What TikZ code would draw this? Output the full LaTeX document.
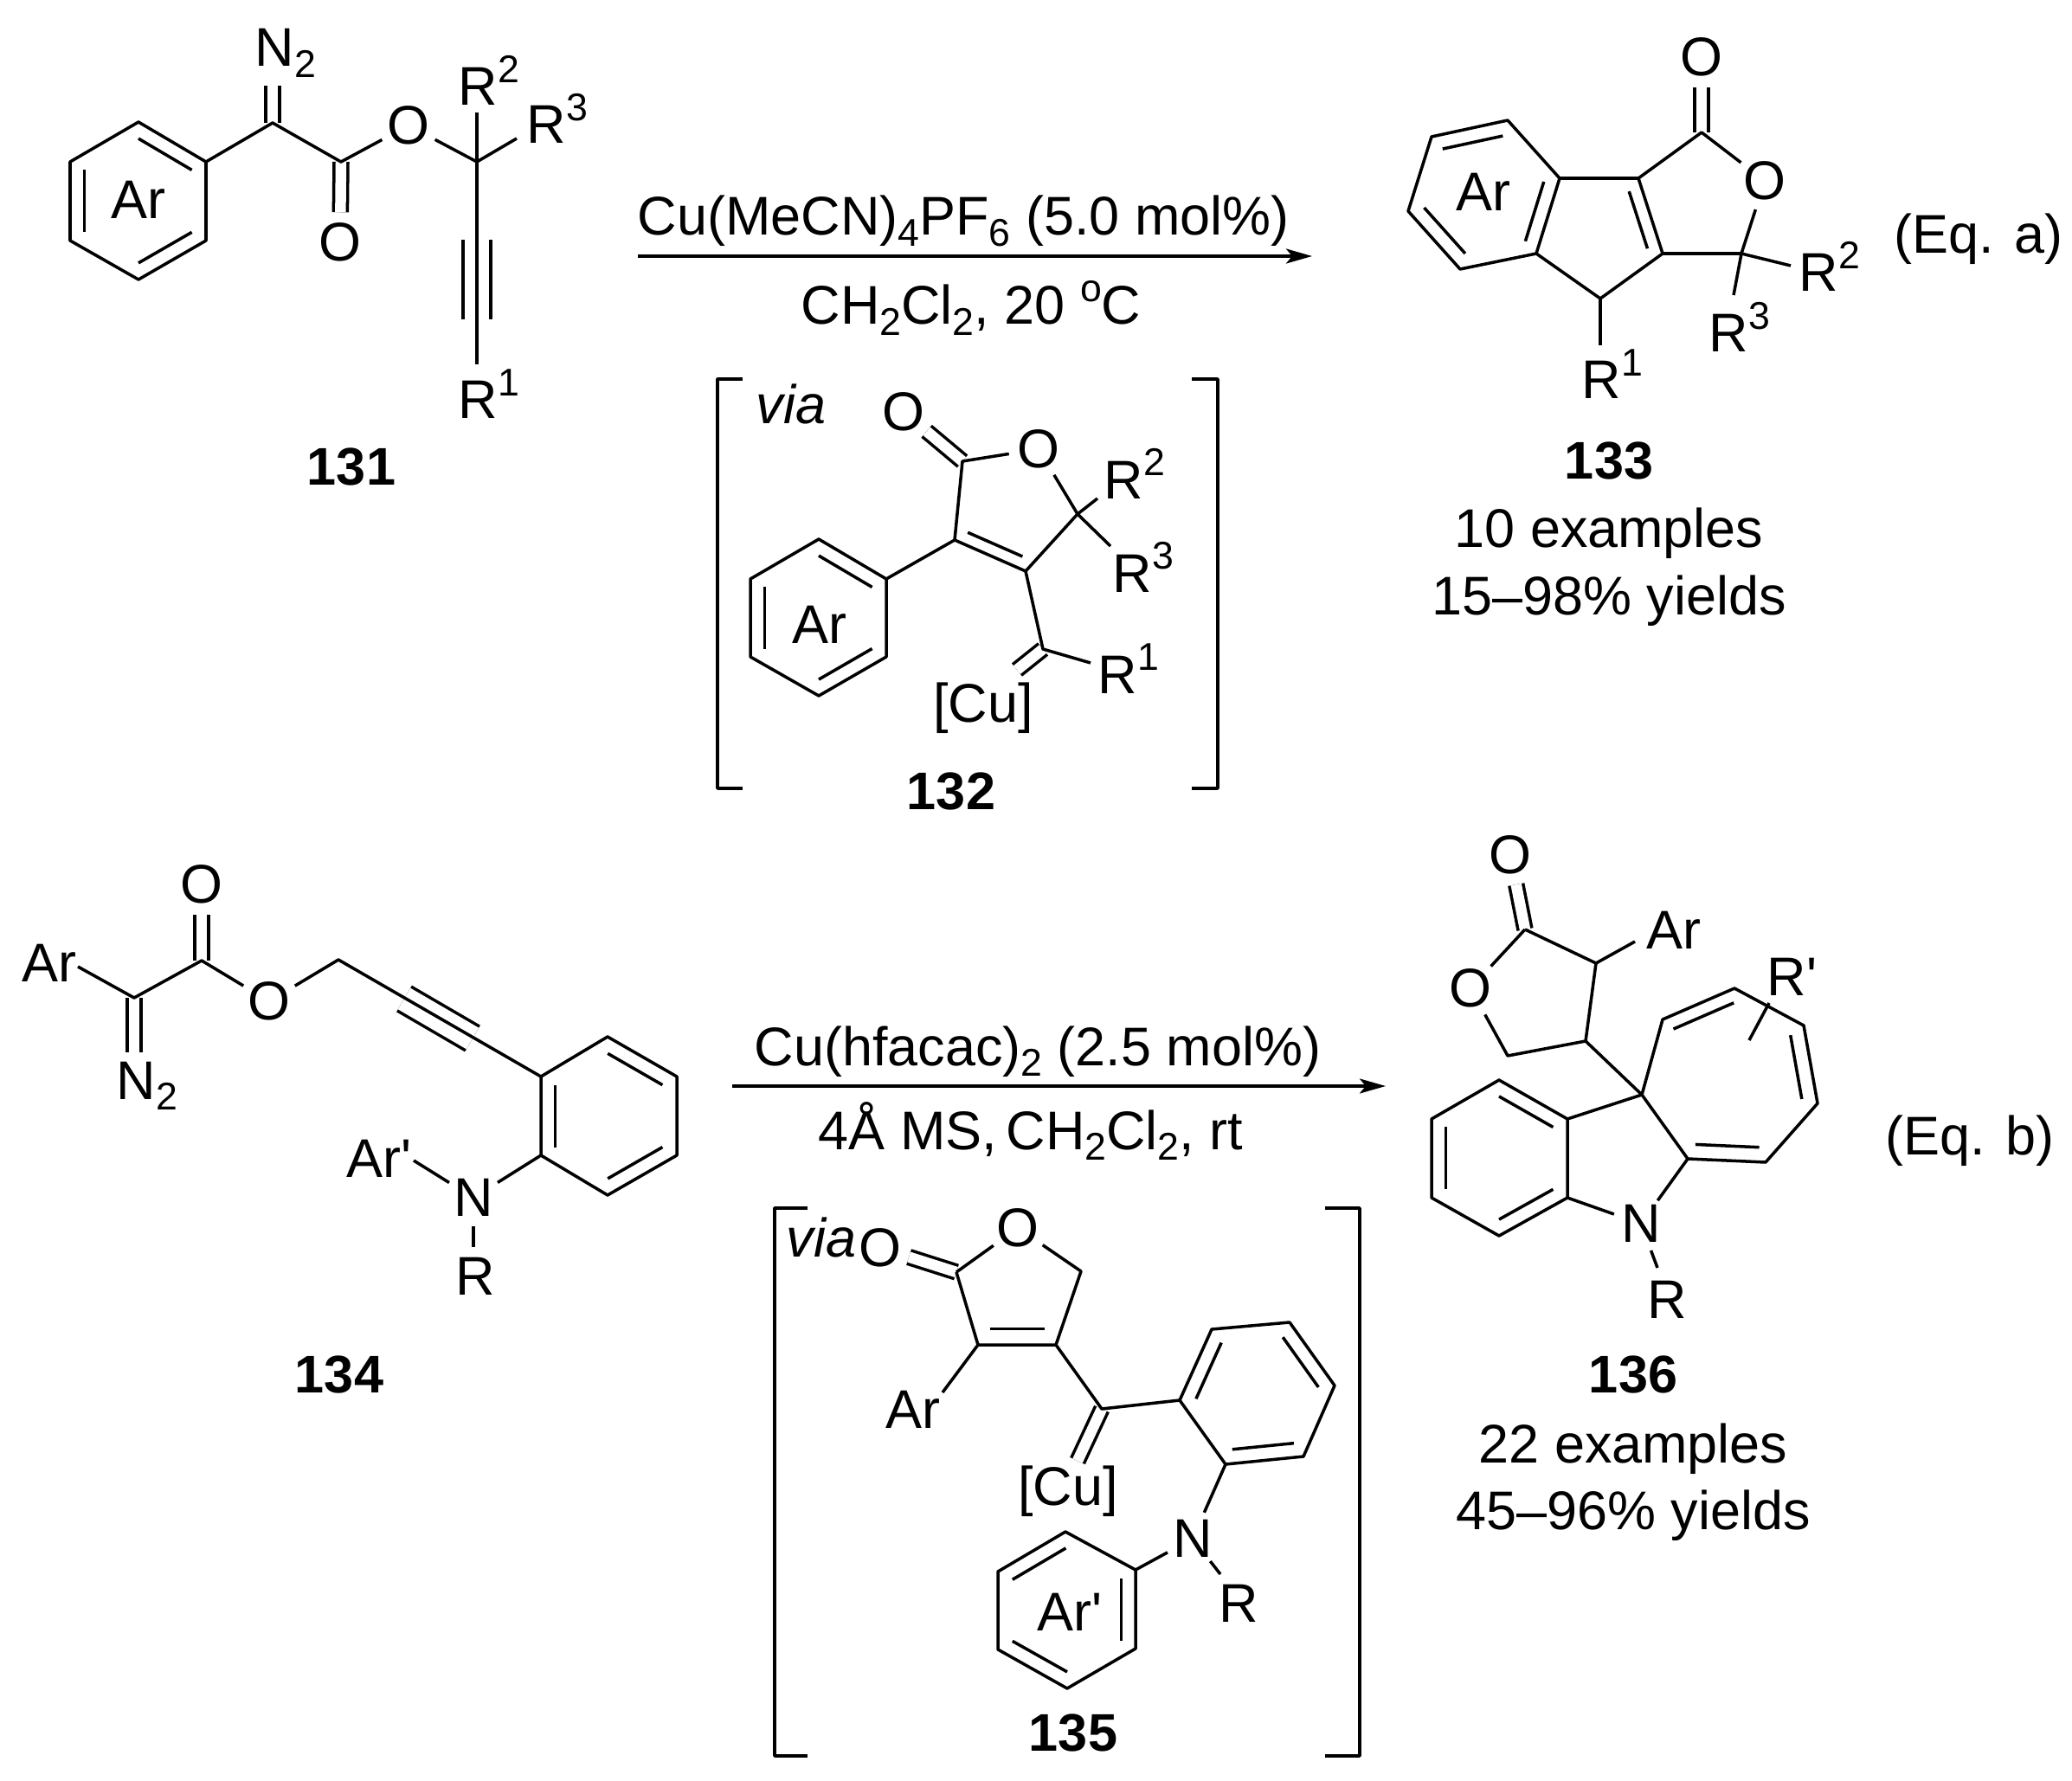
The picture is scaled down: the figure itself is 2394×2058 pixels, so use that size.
\documentclass[tikz,border=0pt]{standalone}
\usepackage{fontspec}
\setmainfont{Liberation Sans}
\usetikzlibrary{arrows.meta}
\usetikzlibrary{calc}
\tikzstyle{bond} = [line width=1pt, line join=round]
\tikzstyle{dbl} = [line width=1pt, double, double distance=3.55pt]
\tikzstyle{yne} = [line width=1pt, double, double distance=8.1pt]
\tikzstyle{atom} = [circle, inner sep=0pt, minimum size=0.62cm]
\tikzstyle{txt} = [anchor=base west, inner sep=0pt]
\tikzstyle{ctr} = [anchor=base, inner sep=0pt]
\tikzstyle{num} = [anchor=base, inner sep=0pt, font=\fontsize{17.4}{21}\selectfont\bfseries]
\newcommand{\subr}[1]{\raisebox{-.2em}{\fontsize{12.7}{12.7}\selectfont #1}}
\newcommand{\supr}[1]{\raisebox{.42em}{\fontsize{12.7}{12.7}\selectfont #1}}
\newcommand{\inbond}[4][.21]{\draw ($(#2)!#1!(#4)$) -- ($(#3)!#1!(#4)$);}
\begin{document}
\begin{tikzpicture}[x=0.01cm, y=-0.01cm, bond, every node/.append style={font=\fontsize{17.9}{21}\selectfont},
    >={Stealth[length=0.3cm, width=0.17cm, inset=0.07cm]}]
    \useasboundingbox (0,0) rectangle (2394,2058);

    % 131
    \coordinate (a1) at (160,141); \coordinate (a2) at (238,187); \coordinate (a3) at (238,278);
    \coordinate (a4) at (160,323); \coordinate (a5) at (81,278); \coordinate (a6) at (81,187);
    \coordinate (ac) at (160,232);
    \coordinate (adiazo) at (315,142); \coordinate (aester) at (394,187); \coordinate (aquat) at (551,187);
    \coordinate (an2end) at (315,99); \coordinate (ar2end) at (551,130); \coordinate (ar3end) at (597,160);
    \coordinate (ar1end) at (551,421); \coordinate (ayne1) at (551,277); \coordinate (ayne2) at (551,369);
    \node[txt] (an2) at (293,77) {N\subr{2}};
    \node[atom] (ao1) at (393,280) {O};
    \node[atom] (ao2) at (472,145) {O};
    \node[txt] (ar2) at (528,122) {R\supr{2}};
    \node[txt] (ar3) at (607,166) {R\supr{3}};
    \node[txt] (ar1) at (528,484) {R\supr{1}};
    \node[ctr] (aar) at (160,253) {Ar};
    \node[num] (acmp) at (406,560) {131};
    \draw[dbl] (adiazo) -- (an2end);
    \draw[dbl] (aester) -- (ao1);
    \draw[yne] (ayne1) -- (ayne2);
    \draw (a1) -- (a2) -- (a3) -- (a4) -- (a5) -- (a6) -- cycle;
    \inbond{a1}{a2}{ac} \inbond{a3}{a4}{ac} \inbond{a5}{a6}{ac}
    \draw (a2) -- (adiazo) -- (aester) -- (ao2) -- (aquat);
    \draw (aquat) -- (ar2end);
    \draw (aquat) -- (ar3end);
    \draw (aquat) -- (ar1end);

    % first arrow
    \coordinate (arrAstart) at (737,296); \coordinate (arrAend) at (1516,296);
    \draw[->] (arrAstart) -- (arrAend);
    \node[txt] (condA1) at (735,272) {Cu(MeCN)\subr{4}PF\subr{6} (5.0 mol\%)};
    \node[ctr] (condA2) at (1122,375) {CH\subr{2}Cl\subr{2}, 20 \supr{o}C};

    % 132
    \draw (858,438) -- (829,438) -- (829,911) -- (858,911);
    \draw (1377,438) -- (1407,438) -- (1407,911) -- (1377,911);
    \node[txt] (viaA) at (872,489) {\itshape via};
    \coordinate (b1) at (946,623); \coordinate (b2) at (1024,669); \coordinate (b3) at (1024,759);
    \coordinate (b4) at (946,804); \coordinate (b5) at (867,759); \coordinate (b6) at (867,669);
    \coordinate (bc) at (946,714);
    \coordinate (blac) at (1112,533); \coordinate (bquat) at (1245,594); \coordinate (bene1) at (1185,660);
    \coordinate (bene2) at (1103,624); \coordinate (bring) at (1169,586); \coordinate (bcarb) at (1205,750);
    \coordinate (br2end) at (1268,576); \coordinate (br3end) at (1283,631); \coordinate (br1end) at (1260,766);
    \coordinate (bcuend) at (1175,774);
    \node[atom] (bo1) at (1044,476) {O};
    \node[atom] (bo2) at (1200,519) {O};
    \node[txt] (br2) at (1274,576) {R\supr{2}};
    \node[txt] (br3) at (1284,684) {R\supr{3}};
    \node[txt] (br1) at (1267,801) {R\supr{1}};
    \node[ctr] (bcu) at (1136,834) {[Cu]};
    \node[ctr] (bar) at (947,743) {Ar};
    \node[num] (bcmp) at (1099,935) {132};
    \draw[dbl] (blac) -- (bo1);
    \draw[dbl] (bcarb) -- (bcuend);
    \draw (b1) -- (b2) -- (b3) -- (b4) -- (b5) -- (b6) -- cycle;
    \inbond{b1}{b2}{bc} \inbond{b3}{b4}{bc} \inbond{b5}{b6}{bc}
    \draw (b2) -- (bene2) -- (blac) -- (bo2) -- (bquat) -- (bene1) -- (bene2);
    \inbond[.23]{bene2}{bene1}{bring}
    \draw (bene1) -- (bcarb) -- (br1end);
    \draw (bquat) -- (br2end);
    \draw (bquat) -- (br3end);

    % 133
    \coordinate (c1) at (1742,139); \coordinate (c2) at (1654,158); \coordinate (c3) at (1627,244);
    \coordinate (c4) at (1687,311); \coordinate (c5) at (1775,293); \coordinate (c6) at (1802,206);
    \coordinate (cc) at (1715,225);
    \coordinate (cene1) at (1893,206); \coordinate (cene2) at (1921,293); \coordinate (cch) at (1849,345);
    \coordinate (cpc) at (1848,269);
    \coordinate (clac) at (1966,153); \coordinate (cquat) at (2012,293);
    \coordinate (cr1end) at (1849,399); \coordinate (cr2end) at (2069,307); \coordinate (cr3end) at (2003,341);
    \node[atom] (co1) at (1966,66) {O};
    \node[atom] (co2) at (2039,209) {O};
    \node[txt] (cr1) at (1826,461) {R\supr{1}};
    \node[txt] (cr2) at (2077,337) {R\supr{2}};
    \node[txt] (cr3) at (1973,407) {R\supr{3}};
    \node[ctr] (car) at (1714,244) {Ar};
    \node[txt] (eqA) at (2187,293) {(Eq. a)};
    \node[num] (ccmp) at (1859,553) {133};
    \node[ctr] (cex) at (1859,632) {10 examples};
    \node[ctr] (cyi) at (1859,710) {15–98\% yields};
    \draw[dbl] (clac) -- (co1);
    \draw (c1) -- (c2) -- (c3) -- (c4) -- (c5) -- (c6) -- cycle;
    \inbond{c1}{c2}{cc} \inbond{c3}{c4}{cc} \inbond{c5}{c6}{cc}
    \draw (c6) -- (cene1) -- (cene2) -- (cch) -- (c5);
    \inbond[.24]{cene1}{cene2}{cpc}
    \draw (cene1) -- (clac) -- (co2) -- (cquat) -- (cene2);
    \draw (cch) -- (cr1end);
    \draw (cquat) -- (cr2end);
    \draw (cquat) -- (cr3end);

    % 134
    \coordinate (d1) at (625,1244); \coordinate (d2) at (702,1198); \coordinate (d3) at (782,1244);
    \coordinate (d4) at (782,1335); \coordinate (d5) at (702,1381); \coordinate (d6) at (625,1335);
    \coordinate (dc) at (703,1290);
    \coordinate (ddiazo) at (155,1153); \coordinate (dester) at (233,1110); \coordinate (dch2) at (391,1109);
    \coordinate (dn2end) at (155,1216); \coordinate (darend) at (90,1117);
    \coordinate (dyne1) at (467,1154); \coordinate (dyne2) at (546,1200);
    \coordinate (dnar) at (478,1341);
    \coordinate (drend) at (547,1441);
    \node[txt] (dar) at (24,1134) {Ar};
    \node[txt] (dn2) at (133,1270) {N\subr{2}};
    \node[atom] (do1) at (233,1022) {O};
    \node[atom] (do2) at (311,1157) {O};
    \node[atom] (dn) at (547,1384) {N};
    \node[txt] (darp) at (399,1360) {Ar\textquotesingle};
    \node[txt] (dr) at (525,1496) {R};
    \node[num] (dcmp) at (392,1609) {134};
    \draw[dbl] (ddiazo) -- (dn2end);
    \draw[dbl] (dester) -- (do1);
    \draw[yne] (dyne1) -- (dyne2);
    \draw (darend) -- (ddiazo) -- (dester) -- (do2) -- (dch2) -- (d1);
    \draw (d1) -- (d2) -- (d3) -- (d4) -- (d5) -- (d6) -- cycle;
    \inbond{d2}{d3}{dc} \inbond{d4}{d5}{dc} \inbond{d6}{d1}{dc}
    \draw (d6) -- (dn);
    \draw (dnar) -- (dn);
    \draw (dn) -- (drend);

    % second arrow
    \coordinate (arrBstart) at (846,1255); \coordinate (arrBend) at (1601,1255);
    \draw[->] (arrBstart) -- (arrBend);
    \node[txt] (condB1) at (870,1231) {Cu(hfacac)\subr{2} (2.5 mol\%)};
    \node[txt] (condB2) at (944,1328) {4Å MS,\,CH\subr{2}Cl\subr{2}, rt};

    % 135
    \draw (933,1396) -- (895,1396) -- (895,2029) -- (933,2029);
    \draw (1531,1396) -- (1571,1396) -- (1571,2029) -- (1531,2029);
    \node[txt] (viaB) at (907,1452) {\itshape via};
    \coordinate (e1) at (1363,1618); \coordinate (e2) at (1400,1536); \coordinate (e3) at (1490,1528);
    \coordinate (e4) at (1542,1601); \coordinate (e5) at (1506,1683); \coordinate (e6) at (1416,1692);
    \coordinate (ec) at (1453,1610);
    \coordinate (f1) at (1312,1814); \coordinate (f2) at (1231,1770); \coordinate (f3) at (1153,1816);
    \coordinate (f4) at (1153,1906); \coordinate (f5) at (1233,1951); \coordinate (f6) at (1312,1905);
    \coordinate (fc) at (1233,1860);
    \coordinate (elac) at (1105,1470); \coordinate (ech2) at (1249,1469); \coordinate (eene1) at (1220,1554);
    \coordinate (eene2) at (1130,1554); \coordinate (ering) at (1176,1493); \coordinate (ecarb) at (1273,1628);
    \coordinate (ecuend) at (1245,1688); \coordinate (earend) at (1089,1609); \coordinate (erend) at (1410,1819);
    \node[atom] (eo1) at (1017,1442) {O};
    \node[atom] (eo2) at (1176,1419) {O};
    \node[atom] (en) at (1378,1778) {N};
    \node[txt] (ear) at (1022,1650) {Ar};
    \node[ctr] (ecu) at (1234,1739) {[Cu]};
    \node[txt] (er) at (1407,1874) {R};
    \node[txt] (earp) at (1197,1884) {Ar\textquotesingle};
    \node[num] (ecmp) at (1240,2023) {135};
    \draw[dbl] (elac) -- (eo1);
    \draw[dbl] (ecarb) -- (ecuend);
    \draw (elac) -- (eo2) -- (ech2) -- (eene1) -- (eene2) -- (elac);
    \inbond[.3]{eene2}{eene1}{ering}
    \draw (eene2) -- (earend);
    \draw (eene1) -- (ecarb) -- (e1);
    \draw (e1) -- (e2) -- (e3) -- (e4) -- (e5) -- (e6) -- cycle;
    \inbond{e1}{e2}{ec} \inbond{e3}{e4}{ec} \inbond{e5}{e6}{ec}
    \draw (e6) -- (en);
    \draw (en) -- (f1);
    \draw (en) -- (erend);
    \draw (f1) -- (f2) -- (f3) -- (f4) -- (f5) -- (f6) -- cycle;
    \inbond{f2}{f3}{fc} \inbond{f4}{f5}{fc} \inbond{f6}{f1}{fc}

    % 136
    \coordinate (g1) at (1811,1293); \coordinate (g2) at (1732,1248); \coordinate (g3) at (1654,1293);
    \coordinate (g4) at (1654,1384); \coordinate (g5) at (1732,1428); \coordinate (g6) at (1811,1384);
    \coordinate (gc) at (1732,1338);
    \coordinate (hs) at (1897,1265); \coordinate (h1) at (1921,1178); \coordinate (h2) at (2004,1142);
    \coordinate (h3) at (2084,1185); \coordinate (h4) at (2100,1275); \coordinate (h5) at (2040,1343);
    \coordinate (h6) at (1950,1339); \coordinate (hc) at (1999,1247);
    \coordinate (glac) at (1762,1074); \coordinate (gcar) at (1844,1113); \coordinate (gch) at (1832,1203);
    \coordinate (gch2) at (1742,1220);
    \coordinate (garend) at (1889,1088); \coordinate (grpa) at (2044,1159); \coordinate (grpb) at (2021,1202);
    \coordinate (grend) at (1915,1465);
    \node[atom] (go1) at (1745,988) {O};
    \node[atom] (go2) at (1699,1142) {O};
    \node[atom] (gn) at (1896,1414) {N};
    \node[txt] (gar) at (1901,1096) {Ar};
    \node[txt] (grp) at (2040,1150) {R\textquotesingle};
    \node[txt] (gr) at (1902,1523) {R};
    \node[txt] (eqB) at (2177,1334) {(Eq. b)};
    \node[num] (gcmp) at (1887,1609) {136};
    \node[ctr] (gex) at (1887,1690) {22 examples};
    \node[ctr] (gyi) at (1887,1767) {45–96\% yields};
    \draw[dbl] (glac) -- (go1);
    \draw (glac) -- (go2) -- (gch2) -- (gch) -- (gcar) -- (glac);
    \draw (gcar) -- (garend);
    \draw (gch) -- (hs);
    \draw (g1) -- (g2) -- (g3) -- (g4) -- (g5) -- (g6) -- cycle;
    \inbond{g1}{g2}{gc} \inbond{g3}{g4}{gc} \inbond{g5}{g6}{gc}
    \draw (g1) -- (hs);
    \draw (g6) -- (gn);
    \draw (h6) -- (gn);
    \draw (hs) -- (h1) -- (h2) -- (h3) -- (h4) -- (h5) -- (h6) -- cycle;
    \inbond[.16]{h1}{h2}{hc} \inbond[.18]{h3}{h4}{hc} \inbond[.18]{h5}{h6}{hc}
    \draw (grpa) -- (grpb);
    \draw (gn) -- (grend);
\end{tikzpicture}
\end{document}
